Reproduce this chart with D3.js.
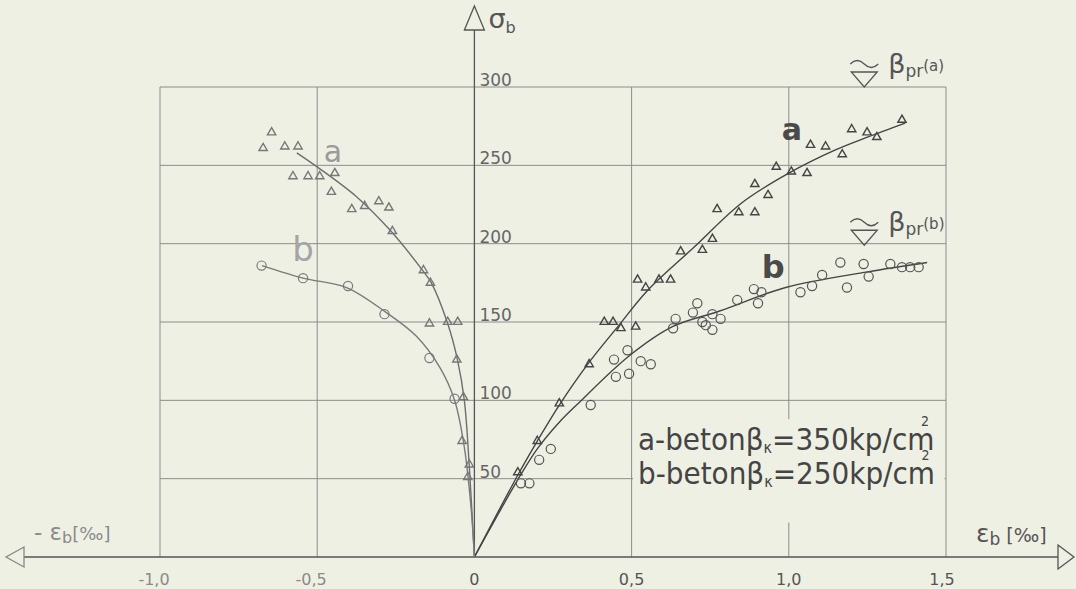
<!DOCTYPE html>
<html>
<head>
<meta charset="utf-8">
<script src="https://cdn.jsdelivr.net/npm/d3@7"></script>
<style>
  body { margin: 0; background: #eef0e4; }
  svg { display: block; }
</style>
</head>
<body>
<div id="chartFrame"></div>
<script>
// strain [per mille] vs stress sigma_b, concrete a (triangles) and b (circles)
const xTicks = [-1.0, -0.5, 0, 0.5, 1.0, 1.5]
const xTickLabels = ['-1,0', '-0,5', '0', '0,5', '1,0', '1,5']
const yTicks = [50, 100, 150, 200, 250, 300]

// fitted curves
const curveARight = [[0, 0], [0.14, 53], [0.2, 74], [0.27, 97], [0.36, 123], [0.46, 148], [0.55, 170], [0.70, 198], [0.85, 226], [1.0, 245], [1.15, 260], [1.25, 268], [1.37, 277]]
const curveBRight = [[0, 0], [0.14, 50], [0.2, 69], [0.27, 86], [0.33, 98], [0.49, 128], [0.63, 147], [0.78, 157], [0.99, 172], [1.25, 182], [1.44, 188]]
const curveALeft = [[-0.565, 258], [-0.5, 249], [-0.375, 230], [-0.27, 209], [-0.165, 183], [-0.137, 175], [-0.085, 149], [-0.054, 126], [-0.032, 100], [-0.016, 57], [0, 0]]
const curveBLeft = [[-0.676, 186], [-0.545, 178], [-0.407, 172], [-0.28, 156], [-0.185, 141], [-0.11, 121], [-0.063, 100], [-0.032, 70], [-0.01, 30], [0, 0]]

// measured points
const triLeft = [[-0.672, 261], [-0.645, 271], [-0.603, 262], [-0.561, 262], [-0.577, 243], [-0.529, 243], [-0.492, 243], [-0.444, 245], [-0.455, 233], [-0.39, 222], [-0.349, 224], [-0.304, 227], [-0.272, 223], [-0.261, 208], [-0.162, 183], [-0.14, 175], [-0.143, 149], [-0.085, 150], [-0.053, 150], [-0.056, 126], [-0.035, 102], [-0.039, 74], [-0.016, 59], [-0.021, 51]]
const circLeft = [[-0.677, 186], [-0.545, 178], [-0.402, 173], [-0.286, 155], [-0.143, 127], [-0.063, 101]]
const triRight = [[0.138, 54], [0.2, 74], [0.27, 98], [0.365, 123], [0.413, 150], [0.441, 150], [0.466, 146], [0.513, 147], [0.519, 177], [0.545, 172], [0.587, 177], [0.624, 177], [0.656, 195], [0.725, 196], [0.757, 203], [0.772, 222], [0.841, 220], [0.892, 220], [0.892, 238], [0.934, 231], [0.96, 249], [1.008, 246], [1.058, 245], [1.069, 263], [1.117, 262], [1.17, 257], [1.2, 273], [1.249, 271], [1.28, 268], [1.36, 279]]
const circRight = [[0.148, 47], [0.175, 47], [0.206, 62], [0.243, 69], [0.37, 97], [0.444, 126], [0.45, 115], [0.487, 132], [0.492, 117], [0.529, 125], [0.561, 123], [0.632, 146], [0.64, 152], [0.695, 156], [0.709, 162], [0.725, 150], [0.736, 148], [0.757, 145], [0.757, 155], [0.783, 152], [0.836, 164], [0.889, 171], [0.902, 162], [0.913, 169], [1.037, 169], [1.074, 173], [1.106, 180], [1.164, 188], [1.185, 172], [1.238, 187], [1.254, 179], [1.323, 187], [1.36, 185], [1.386, 185], [1.413, 185]]

const W = 1076
const H = 589
const bg = '#eef0e4'
const dark = '#444'

const svg = d3.select('#chartFrame').append('svg')
  .attr('width', W)
  .attr('height', H)
svg.append('rect').attr('width', W).attr('height', H).attr('fill', bg)

const xScale = d3.scaleLinear().domain([-1.0, 1.5]).range([160, 946])
const yScale = d3.scaleLinear().domain([0, 300]).range([557, 87])
const x0 = xScale(0)
const y0 = yScale(0)

// grid
let grid = svg.append('g').style('stroke', '#8c8c8c').style('stroke-width', 1)
yTicks.forEach(t => {
  grid.append('line')
    .attr('x1', xScale(-1)).attr('x2', xScale(1.5))
    .attr('y1', yScale(t)).attr('y2', yScale(t))
})
xTicks.filter(t => t !== 0).forEach(t => {
  grid.append('line')
    .attr('x1', xScale(t)).attr('x2', xScale(t))
    .attr('y1', yScale(0)).attr('y2', yScale(300))
})

// legend background cuts the grid
svg.append('rect')
  .attr('x', xScale(0.5) + 1.5).attr('y', yScale(88))
  .attr('width', xScale(1.5) - xScale(0.5) - 3).attr('height', yScale(22) - yScale(88))
  .attr('fill', bg)

// axes with open arrows
let axes = svg.append('g').style('stroke', '#555').style('stroke-width', 1.3).style('fill', 'none')
axes.append('line').attr('x1', 24).attr('x2', 1058).attr('y1', y0).attr('y2', y0)
axes.append('line').attr('x1', x0).attr('x2', x0).attr('y1', y0).attr('y2', 30)
axes.append('path').attr('d', `M24,${y0 - 10} L6,${y0} L24,${y0 + 10} Z`).style('stroke', '#888')
axes.append('path').attr('d', `M1058,${y0 - 12} L1074,${y0} L1058,${y0 + 12} Z`)
axes.append('path').attr('d', `M${x0 - 10},30 L${x0},6 L${x0 + 10},30 Z`)

// tick labels
svg.append('g').selectAll('text')
  .data(xTicks)
  .enter()
  .append('text')
  .attr('x', (d, i) => xScale(d) + (d < 0 ? -6 : 0) + (d === 1.5 ? -4 : 0))
  .attr('y', 585)
  .attr('text-anchor', 'middle')
  .style('font', '16px "DejaVu Sans"')
  .style('fill', (d) => d < 0 ? '#8a8a8a' : '#555')
  .text((d, i) => xTickLabels[i])
svg.append('g').selectAll('text')
  .data(yTicks)
  .enter()
  .append('text')
  .attr('x', x0 + 5)
  .attr('y', d => yScale(d) - 1)
  .style('font', '17px "DejaVu Sans"')
  .style('fill', '#666')
  .text(d => d)

// curves
const line = d3.line().x(d => xScale(d[0])).y(d => yScale(d[1])).curve(d3.curveCatmullRom)
let curves = svg.append('g').style('fill', 'none').style('stroke-width', 1.4)
curves.append('path').datum(curveARight).attr('d', line).style('stroke', dark)
curves.append('path').datum(curveBRight).attr('d', line).style('stroke', dark)
curves.append('path').datum(curveALeft).attr('d', line).style('stroke', '#6e6e6e')
curves.append('path').datum(curveBLeft).attr('d', line).style('stroke', '#7a7a7a')

// markers
const tri = d3.symbol().type(d3.symbolTriangle).size(30)
let drawTri = function (pts, col) {
  svg.append('g').selectAll('path')
    .data(pts)
    .enter()
    .append('path')
    .attr('d', tri)
    .attr('transform', d => `translate(${xScale(d[0])},${yScale(d[1])})`)
    .style('fill', 'none')
    .style('stroke', col)
    .style('stroke-width', 1.4)
}
let drawCirc = function (pts, col) {
  svg.append('g').selectAll('circle')
    .data(pts)
    .enter()
    .append('circle')
    .attr('cx', d => xScale(d[0]))
    .attr('cy', d => yScale(d[1]))
    .attr('r', 4.6)
    .style('fill', 'none')
    .style('stroke', col)
    .style('stroke-width', 1.2)
}
drawTri(triLeft, '#777')
drawCirc(circLeft, '#7a7a7a')
drawTri(triRight, dark)
drawCirc(circRight, '#555')

// curve names
let names = [
  {t: 'a', x: -0.45, y: 252, size: 30, col: '#9a9a9a', w: 'normal'},
  {t: 'b', x: -0.545, y: 189, size: 34, col: '#a5a5a5', w: 'normal'},
  {t: 'a', x: 1.01, y: 266, size: 30, col: '#4a4a4a', w: 'bold'},
  {t: 'b', x: 0.95, y: 178, size: 32, col: '#4a4a4a', w: 'bold'}
]
svg.append('g').selectAll('text')
  .data(names)
  .enter()
  .append('text')
  .attr('x', d => xScale(d.x))
  .attr('y', d => yScale(d.y))
  .attr('text-anchor', 'middle')
  .style('font-family', '"DejaVu Sans"')
  .style('font-size', d => d.size + 'px')
  .style('font-weight', d => d.w)
  .style('fill', d => d.col)
  .text(d => d.t)

// axis titles
let yTitle = svg.append('text').attr('x', x0 + 14).attr('y', 28)
  .style('font', '27px "DejaVu Sans"').style('fill', '#555')
yTitle.append('tspan').text('σ')
yTitle.append('tspan').attr('dy', 5).style('font-size', '16px').text('b')

let xTitle = svg.append('text').attr('x', 976).attr('y', 542)
  .style('font', '25px "DejaVu Sans"').style('fill', '#555')
xTitle.append('tspan').text('ε')
xTitle.append('tspan').attr('dy', 3).style('font-size', '17px').text('b')
xTitle.append('tspan').attr('dy', -3).style('font-size', '19px').text(' [‰]')

let xTitleNeg = svg.append('text').attr('x', 34).attr('y', 540)
  .style('font', '23px "DejaVu Sans"').style('fill', '#8a8a8a')
xTitleNeg.append('tspan').text('- ε')
xTitleNeg.append('tspan').attr('dy', 3).style('font-size', '16px').text('b')
xTitleNeg.append('tspan').attr('dy', -3).style('font-size', '18px').text('[‰]')

// failure strength marks
let betaMark = function (xv, yv, tag) {
  let cx = xScale(xv)
  let cy = yScale(yv)
  let g = svg.append('g').style('stroke', '#555').style('fill', 'none').style('stroke-width', 1.3)
  g.append('path').attr('d', `M${cx - 13},${cy - 15} L${cx + 13},${cy - 15} L${cx},${cy} Z`)
  g.append('path').attr('d', `M${cx - 14},${cy - 23} q7,-7 14,0 t14,0`)
  let t = svg.append('text').attr('x', cx + 24).attr('y', cy - 14)
    .style('font', '27px "DejaVu Sans"').style('fill', '#555')
  t.append('tspan').text('β')
  t.append('tspan').attr('dy', 4).style('font-size', '17px').text('pr')
  t.append('tspan').attr('dy', -6).style('font-size', '15px').text(tag)
}
betaMark(1.24, 300, '(a)')
betaMark(1.24, 199, '(b)')

// legend
let legendRows = [
  {name: 'a', val: '350', y: 450},
  {name: 'b', val: '250', y: 484}
]
legendRows.forEach(r => {
  let g = svg.append('g').attr('transform', `translate(638,${r.y}) scale(0.9,1)`)
  let t = g.append('text').style('font', '31px "DejaVu Sans"').style('fill', '#444')
  t.append('tspan').text(`${r.name}-betonβ`)
  t.append('tspan').attr('dy', 3).style('font-size', '16px').text('κ')
  t.append('tspan').attr('dy', -3).text(`=${r.val}kp/cm`)
  t.append('tspan').attr('dx', -15).attr('dy', -24).style('font-size', '14px').text('2')
})
</script>
</body>
</html>
